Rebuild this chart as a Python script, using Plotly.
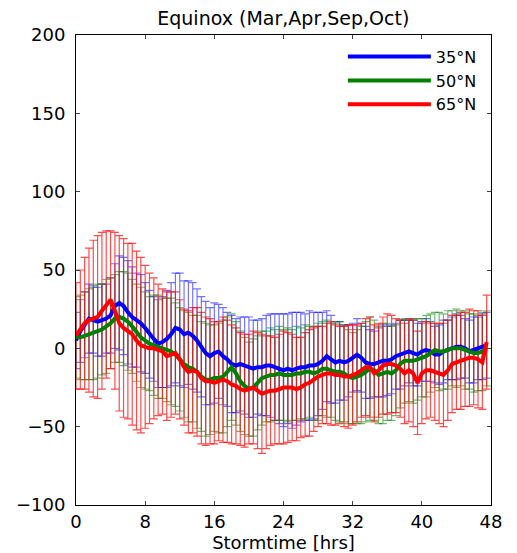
import numpy as np
import plotly.graph_objects as go

# Stormtime (hrs), 0.5-hr steps
blue_mean = [5, 11, 15, 19, 18, 17, 18, 19, 21, 27, 29, 27, 23, 20, 18, 16, 13, 9, 6, 3,
             4, 6, 9, 13, 12, 9, 10, 8, 5, 1, -3, -5, -3, -2, -5, -7, -10, -11, -10, -11,
             -12, -13, -12, -12, -11, -11, -12, -13, -14, -13, -14, -13, -12, -12, -11, -11, -10, -8, -5, -7,
             -9, -8, -9, -8, -6, -4, -6, -9, -10, -10, -9, -8, -8, -7, -5, -4, -3, -2, -3, -4,
             -2, -1, -2, -4, -4, -2, -1, 0, 1, 1, 0, -2, -1, 0, 1, 2]
green_mean = [7, 7, 8, 9, 10, 11, 12, 14, 16, 19, 20, 19, 17, 14, 10, 7, 5, 3, 2, 1,
              0, -1, -2, -4, -7, -10, -12, -13, -15, -18, -20, -20, -19, -19, -18, -15, -12, -16, -21, -24,
              -26, -25, -22, -19, -18, -17, -17, -16, -17, -17, -17, -16, -16, -15, -15, -16, -15, -13, -13, -14,
              -15, -15, -16, -18, -19, -18, -17, -15, -13, -14, -17, -16, -15, -16, -14, -10, -8, -8, -8, -7,
              -6, -5, -3, -1, -2, -2, -1, 0, 0, 0, -1, -2, -3, -3, -2, 0]
red_mean = [8, 12, 16, 18, 19, 20, 24, 28, 31, 24, 16, 13, 11, 9, 5, 2, 1, 0, 0, -1,
            -2, -5, -4, -3, -7, -12, -15, -14, -15, -19, -21, -21, -22, -21, -20, -21, -23, -24, -26, -27,
            -26, -25, -27, -29, -28, -27, -27, -26, -25, -25, -25, -26, -25, -23, -22, -20, -18, -17, -16, -16,
            -17, -17, -18, -18, -17, -16, -14, -12, -12, -16, -14, -11, -10, -10, -11, -13, -16, -14, -16, -22,
            -16, -14, -14, -15, -16, -17, -14, -10, -9, -8, -7, -6, -6, -7, -9, 4]

blue_std = [18, 20, 21, 22, 21, 22, 23, 22, 24, 27, 30, 31, 33, 32, 30, 31, 29, 28, 27, 28,
            29, 31, 33, 35, 36, 34, 33, 34, 33, 32, 33, 31, 32, 30, 31, 30, 31, 30, 30, 31,
            32, 31, 30, 31, 32, 33, 34, 35, 36, 35, 37, 36, 35, 34, 35, 34, 33, 31, 29, 28,
            26, 25, 24, 23, 22, 23, 22, 23, 22, 21, 22, 23, 22, 22, 21, 22, 21, 20, 21, 20,
            19, 20, 19, 18, 19, 20, 19, 20, 21, 20, 19, 20, 21, 20, 21, 21]
green_std = [26, 27, 28, 29, 30, 30, 29, 30, 29, 28, 29, 30, 31, 30, 31, 32, 31, 30, 32, 33,
             32, 33, 34, 33, 33, 34, 35, 34, 36, 35, 36, 35, 34, 35, 36, 35, 34, 33, 32, 31,
             30, 31, 30, 30, 29, 30, 29, 30, 29, 30, 29, 30, 29, 30, 29, 30, 31, 30, 31, 30,
             31, 32, 31, 30, 29, 30, 31, 32, 33, 32, 31, 32, 31, 30, 29, 28, 27, 26, 27, 26,
             25, 26, 25, 24, 25, 24, 25, 24, 25, 24, 25, 24, 25, 24, 25, 24]
red_std = [34, 38, 42, 46, 50, 52, 50, 47, 44, 50, 56, 57, 56, 58, 57, 56, 52, 48, 45, 42,
           40, 41, 40, 39, 38, 37, 39, 40, 41, 42, 41, 40, 39, 38, 40, 39, 38, 37, 36, 36,
           35, 36, 37, 38, 36, 35, 34, 35, 36, 35, 34, 33, 32, 33, 34, 33, 32, 31, 32, 33,
           32, 31, 32, 33, 32, 31, 30, 31, 32, 31, 30, 31, 32, 31, 30, 31, 32, 33, 34, 33,
           32, 31, 30, 31, 32, 33, 32, 31, 30, 31, 30, 31, 30, 31, 30, 30]

labels = ["35°N", "50°N", "65°N"]
means = [blue_mean, green_mean, red_mean]
stds = [blue_std, green_std, red_std]
line_colors = ["#0000ff", "#007f00", "#ff0000"]
bar_colors = ["rgba(0,0,255,0.55)", "rgba(0,127,0,0.55)", "rgba(255,0,0,0.7)"]

x_ticks = [0, 8, 16, 24, 32, 40, 48]
y_ticks = [-100, -50, 0, 50, 100, 150, 200]

FONT = "DejaVu Sans, Liberation Sans, Arial, sans-serif"

fig = go.Figure()

# error bars first (beneath the lines)
for m, s, bc in zip(means, stds, bar_colors):
    t = np.arange(len(m)) * 0.5
    fig.add_trace(go.Scatter(
        x=t, y=m, mode="markers",
        marker=dict(size=1, color="rgba(0,0,0,0)"),
        error_y=dict(type="data", array=s, visible=True, color=bc, thickness=1.2, width=4),
        showlegend=False, hoverinfo="skip"))

for m, lab, lc in zip(means, labels, line_colors):
    t = np.arange(len(m)) * 0.5
    fig.add_trace(go.Scatter(
        x=t, y=m, mode="lines", name=lab,
        line=dict(color=lc, width=4)))

fig.update_layout(
    width=517, height=553,
    margin=dict(l=76, r=26, t=35, b=48, autoexpand=False),
    paper_bgcolor="white", plot_bgcolor="white",
    font=dict(family=FONT, color="black", size=17),
    title=dict(text="Equinox (Mar,Apr,Sep,Oct)", x=0.548, xanchor="center",
               y=0.967, yanchor="middle", font=dict(size=19)),
    legend=dict(x=0.978, y=0.99, xanchor="right", yanchor="top",
                bgcolor="rgba(255,255,255,0)", borderwidth=0,
                font=dict(size=16), itemwidth=83, tracegroupgap=0),
    xaxis=dict(range=[0, 48], tickvals=x_ticks, ticks="inside", ticklen=4,
               showline=True, linecolor="black", linewidth=1, mirror="ticks",
               showgrid=False, zeroline=False, tickfont=dict(size=18), automargin=False,
               title=dict(text="Stormtime [hrs]", font=dict(size=18), standoff=4)),
    yaxis=dict(range=[-100, 200], tickvals=y_ticks, ticks="inside", ticklen=4,
               showline=True, linecolor="black", linewidth=1, mirror="ticks",
               showgrid=False, zeroline=False, tickfont=dict(size=18), automargin=False,
               ticklabelstandoff=6),
)

fig.write_html("out.html")
